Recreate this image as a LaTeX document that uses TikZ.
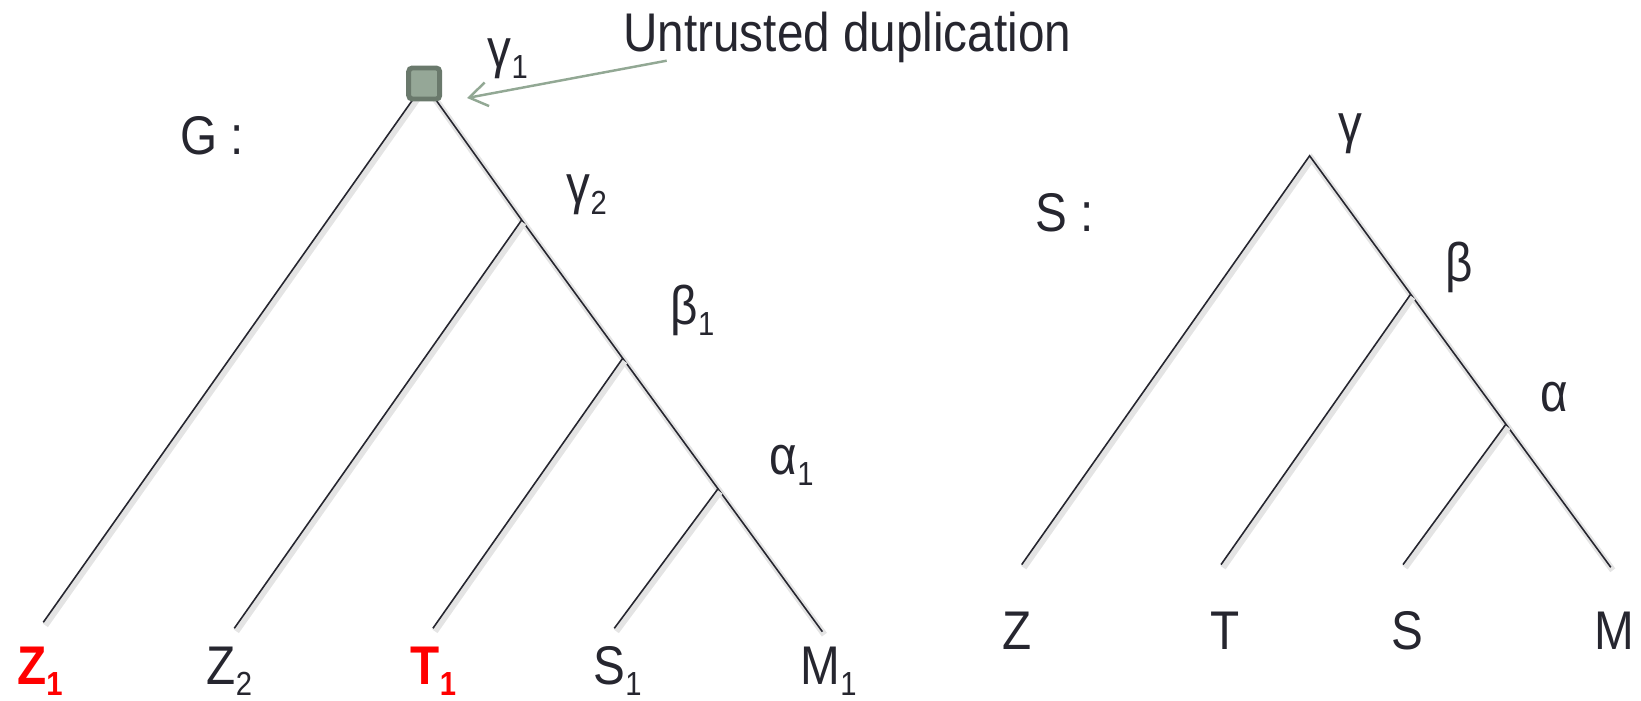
\documentclass[tikz,border=0pt]{standalone}
\usepackage{fontspec}
\setmainfont[FakeStretch=0.875]{Liberation Sans}
\usetikzlibrary{arrows.meta}
\definecolor{Ink}{HTML}{26262F}
\definecolor{Alert}{HTML}{FF0000}
\definecolor{DupFill}{HTML}{95A797}
\definecolor{DupEdge}{HTML}{6A796C}
\definecolor{Pointer}{HTML}{92A894}
\definecolor{Shade}{HTML}{E4E4E4}
\newcommand{\subidx}[2]{#1\raisebox{-3pt}{\fontsize{9.5}{9.5}\selectfont #2}}

\begin{document}
\begin{tikzpicture}[font=\fontsize{15.5}{18}\selectfont,text=Ink,
    branch/.style={draw=Ink,line width=0.45pt,
      preaction={draw=Shade,line width=1.8pt,transform canvas={shift={(0.02,-0.03)}}}},
    lbl/.style={anchor=base west,inner sep=0pt},
    dupbox/.style={draw=DupEdge,fill=DupFill,line width=1.4pt,rounded corners=1pt,
      minimum size=0.31cm,inner sep=0pt},
    pointer/.style={draw=Pointer,line width=0.7pt,-{Straight Barb[length=1.8mm,width=2.4mm]}}]
    \useasboundingbox (0,0) rectangle (16.41,7.01);
    % gene tree G
    \coordinate (g1) at (4.242,6.175);
    \coordinate (g2) at (5.217,4.810);
    \coordinate (b1) at (6.227,3.427);
    \coordinate (a1) at (7.180,2.122);
    \coordinate (z1) at (0.433,0.787);
    \coordinate (z2) at (2.343,0.727);
    \coordinate (t1) at (4.329,0.727);
    \coordinate (s1) at (6.143,0.727);
    \coordinate (m1) at (8.224,0.693);
    \draw[branch] (z1) -- (g1) -- (g2) -- (b1) -- (a1) -- (m1);
    \draw[branch] (g2) -- (z2);
    \draw[branch] (b1) -- (t1);
    \draw[branch] (a1) -- (s1);
    \node[dupbox] (dup) at (g1) {};
    \node[lbl] (gname) at (1.793,5.46) {G :};
    \node[lbl] (g1lbl) at (4.87,6.33) {\subidx{γ}{1}};
    \node[lbl] (g2lbl) at (5.66,4.97) {\subidx{γ}{2}};
    \node[lbl] (b1lbl) at (6.70,3.76) {\subidx{β}{1}};
    \node[lbl] (a1lbl) at (7.69,2.26) {\subidx{α}{1}};
    \node[lbl,text=Alert,font=\fontsize{15.5}{18}\selectfont\bfseries] (z1lbl) at (0.165,0.16) {\subidx{Z}{1}};
    \node[lbl] (z2lbl) at (2.06,0.16) {\subidx{Z}{2}};
    \node[lbl,text=Alert,font=\fontsize{15.5}{18}\selectfont\bfseries] (t1lbl) at (4.10,0.16) {\subidx{T}{1}};
    \node[lbl] (s1lbl) at (5.93,0.16) {\subidx{S}{1}};
    \node[lbl] (m1lbl) at (8.00,0.16) {\subidx{M}{1}};
    \node[lbl] (note) at (6.227,6.493) {Untrusted duplication};
    \coordinate (notetail) at (6.667,6.403);
    \coordinate (notetip) at (4.67,6.03);
    \draw[pointer] (notetail) -- (notetip);
    % species tree S
    \coordinate (sg) at (13.096,5.452);
    \coordinate (sb) at (14.107,4.068);
    \coordinate (sa) at (15.059,2.768);
    \coordinate (sz) at (10.217,1.364);
    \coordinate (st) at (12.210,1.364);
    \coordinate (ss) at (14.030,1.364);
    \coordinate (sm) at (16.108,1.337);
    \draw[branch] (sz) -- (sg) -- (sb) -- (sa) -- (sm);
    \draw[branch] (sb) -- (st);
    \draw[branch] (sa) -- (ss);
    \node[lbl] (sname) at (10.35,4.69) {S :};
    \node[lbl] (sglbl) at (13.38,5.58) {γ};
    \node[lbl] (sblbl) at (14.45,4.19) {β};
    \node[lbl] (salbl) at (15.40,2.89) {α};
    \foreach \x/\leaf in {10.02/Z,12.10/T,13.91/S,15.94/M}
      \node[lbl] (sp\leaf) at (\x,0.51) {\leaf};
\end{tikzpicture}
\end{document}
